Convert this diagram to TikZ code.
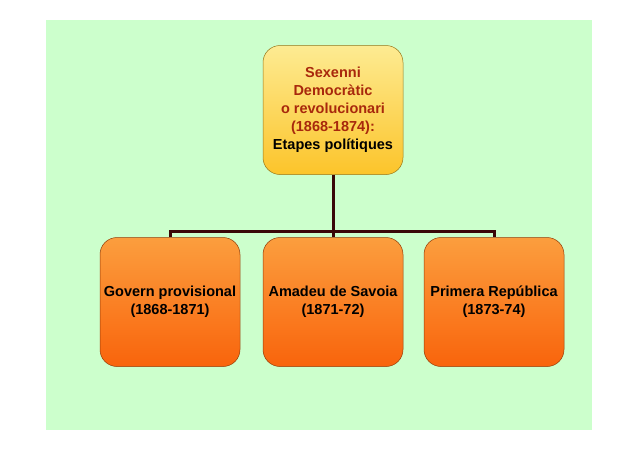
\documentclass[tikz,border=0pt]{standalone}
\usepackage{fontspec}
\setmainfont{Liberation Sans}
\usetikzlibrary{positioning}

\definecolor{bggreen}{HTML}{CCFFCC}
\definecolor{titlered}{HTML}{A8280C}
\definecolor{linebrown}{HTML}{3A0808}
\definecolor{yellowtop}{HTML}{FDEB92}
\definecolor{yellowbot}{HTML}{FCC42A}
\definecolor{orangetop}{HTML}{FB9E3E}
\definecolor{orangebot}{HTML}{F9640C}

\tikzset{
  stagebox/.style={rounded corners=17pt, minimum width=140pt, minimum height=129pt,
    align=center, font=\bfseries\fontsize{14.5}{18}\selectfont, inner sep=2pt},
  headbox/.style={stagebox, draw=yellowbot!60!black, line width=0.5pt,
    top color=yellowtop, bottom color=yellowbot, text=titlered},
  periodbox/.style={stagebox, draw=orangebot!60!black, line width=0.5pt,
    top color=orangetop, bottom color=orangebot},
  busline/.style={draw=linebrown, line width=3pt}
}

\begin{document}
\begin{tikzpicture}[x=1pt,y=-1pt]
\useasboundingbox (0,0) rectangle (638,451);

% Draw the background
\fill[bggreen] (46,20) rectangle (592,430);

% Draw the boxes
\node[headbox] (sexenni) at (333,110) {Sexenni\\Democràtic\\o revolucionari\\(1868-1874):\\\textcolor{black}{Etapes polítiques}};
\node[periodbox] (govern) at (170,302) {Govern provisional\\(1868-1871)};
\node[periodbox] (amadeu) at (333,302) {Amadeu de Savoia\\(1871-72)};
\node[periodbox] (republica) at (494,302) {Primera República\\(1873-74)};

% Connectors
\coordinate (bus) at (333,231);
\draw[busline] (sexenni.south) -- (amadeu.north);
\draw[busline, line join=miter] (govern.north) -- (govern.north |- bus) -- (republica.north |- bus) -- (republica.north);

\end{tikzpicture}
\end{document}
